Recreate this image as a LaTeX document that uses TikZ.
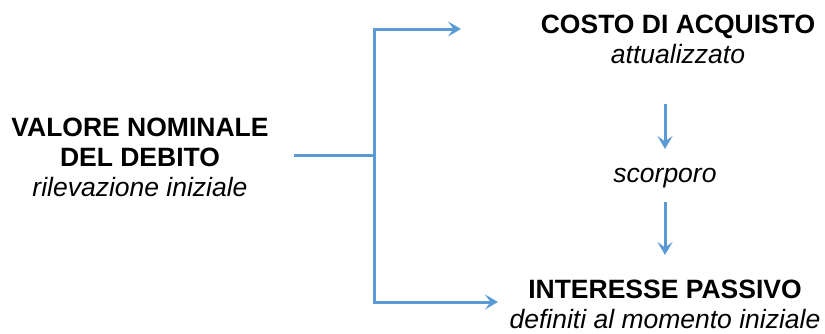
\documentclass[tikz,border=0pt]{standalone}
\usepackage{fontspec}
\setmainfont{Liberation Sans}
\usetikzlibrary{arrows.meta}
\definecolor{lineblue}{HTML}{5B9BD5}
\begin{document}
\begin{tikzpicture}[x=1pt,y=1pt,
  conn/.style={draw=lineblue,line width=3pt},
  arr/.style={conn,-{Stealth[length=13pt,width=15pt,inset=5.5pt]}},
  lbl/.style={inner sep=0pt,align=center,font=\fontsize{26.5}{30}\selectfont}]
\useasboundingbox (0,0) rectangle (825,333);
\node[lbl] (left) at (140,176) {\textbf{VALORE NOMINALE}\\\textbf{DEL DEBITO}\\\textit{rilevazione iniziale}};
\node[lbl] (costo) at (678,294) {\textbf{COSTO DI ACQUISTO}\\\textit{attualizzato}};
\node[lbl] (scorp) at (665,155) {\textit{scorporo}};
\node[lbl] (inter) at (665,29) {\textbf{INTERESSE PASSIVO}\\\textit{definiti al momento iniziale}};
\coordinate (hs) at (294,178);
\coordinate (j) at (374,178);
\coordinate (jt) at (374,304);
\coordinate (jb) at (374,31);
\coordinate (tt) at (461,304);
\coordinate (bt) at (498,31);
\draw[conn] (hs) -- (j);
\draw[arr] (j) -- (jt) -- (tt);
\draw[arr] (j) -- (jb) -- (bt);
\coordinate (a1) at (665,229);
\coordinate (a2) at (665,184);
\coordinate (a3) at (665,131);
\coordinate (a4) at (665,78);
\draw[arr] (a1) -- (a2);
\draw[arr] (a3) -- (a4);
\end{tikzpicture}
\end{document}
